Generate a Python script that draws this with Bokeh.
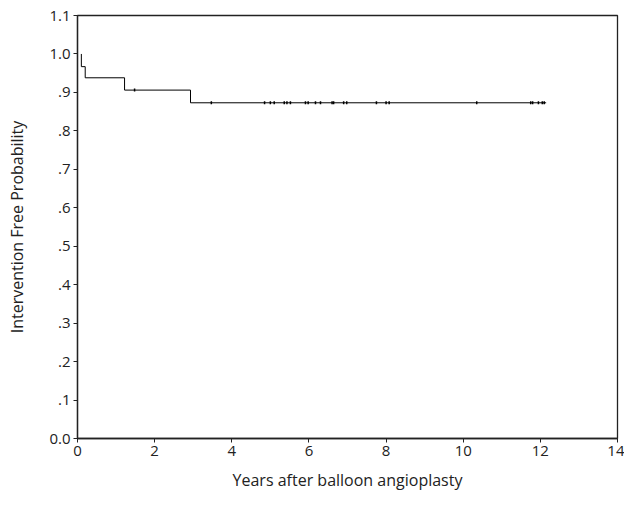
import numpy as np
from bokeh.plotting import figure
from bokeh.models import Range1d, FixedTicker
from bokeh.embed import file_html
from bokeh.resources import INLINE

# Kaplan-Meier step data
step_times = [0.10, 0.10, 0.20, 1.22, 2.93, 12.15]
step_surv = [1.000, 0.967, 0.938, 0.906, 0.873, 0.873]

# censored observations
censor_times = [1.48, 3.47, 4.85, 5.00, 5.10, 5.36, 5.43, 5.52, 5.91, 5.98, 6.17, 6.30,
                6.60, 6.64, 6.90, 6.98, 7.75, 8.00, 8.08, 10.35, 11.75, 11.80, 11.95,
                12.05, 12.10]
censor_surv = [0.906] + [0.873] * 24

x_ticks = [0, 2, 4, 6, 8, 10, 12, 14]
y_ticks = [0.0, 0.1, 0.2, 0.3, 0.4, 0.5, 0.6, 0.7, 0.8, 0.9, 1.0, 1.1]
y_tick_labels = ["0.0", ".1", ".2", ".3", ".4", ".5", ".6", ".7", ".8", ".9", "1.0", "1.1"]

FONT = "Open Sans"
COL = "#222222"

p = figure(width=624, height=518, output_backend="svg", toolbar_location=None,
           x_range=Range1d(0, 14), y_range=Range1d(0, 1.1),
           min_border_left=77, min_border_right=7, min_border_top=15, min_border_bottom=80)

p.step(x=step_times, y=step_surv, mode="after", line_color="black", line_width=1)
p.scatter(x=censor_times, y=censor_surv, marker="dash", angle=np.pi / 2, size=3,
          line_color="black", line_width=1.5)

p.grid.visible = False
p.outline_line_color = COL
p.outline_line_width = 1.3
p.background_fill_color = "white"
p.border_fill_color = "white"

for ax in (p.xaxis, p.yaxis):
    ax.axis_line_color = COL
    ax.axis_line_width = 1.3
    ax.major_tick_line_color = COL
    ax.major_tick_in = 0
    ax.major_tick_out = 4
    ax.minor_tick_line_color = None
    ax.major_label_text_font = FONT
    ax.major_label_text_font_size = "15px"
    ax.major_label_text_color = COL
    ax.axis_label_text_font = FONT
    ax.axis_label_text_font_size = "16px"
    ax.axis_label_text_font_style = "normal"
    ax.axis_label_text_color = COL

p.xaxis.ticker = FixedTicker(ticks=x_ticks)
p.yaxis.ticker = FixedTicker(ticks=y_ticks)
p.yaxis.major_label_overrides = {t: l for t, l in zip(y_ticks, y_tick_labels)}
p.xaxis.major_label_standoff = 3
p.yaxis.major_label_standoff = 3
p.xaxis.axis_label = "Years after balloon angioplasty"
p.yaxis.axis_label = "Intervention Free Probability"
p.xaxis.axis_label_standoff = 10
p.yaxis.axis_label_standoff = 18

open("out.html", "w").write(file_html(p, INLINE))
